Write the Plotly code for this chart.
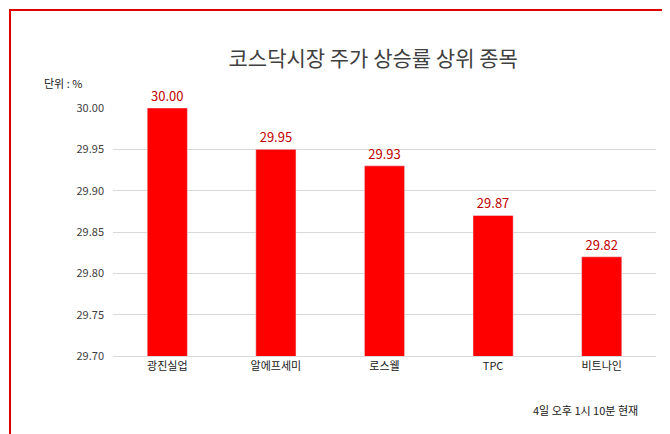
import plotly.graph_objects as go

stocks = ["광진실업", "알에프세미", "로스웰", "TPC", "비트나인"]
rates = [30.00, 29.95, 29.93, 29.87, 29.82]
tick_vals = [29.70, 29.75, 29.80, 29.85, 29.90, 29.95, 30.00]

L, R, T, B = 105, 22, 100, 86
PW, PH = 670 - L - R, 434 - T - B

fig = go.Figure()
fig.add_trace(go.Bar(
    x=stocks, y=rates, marker_color="#ff0000",
    text=[f"{v:.2f}" for v in rates], textposition="outside",
    textfont=dict(color="#c00000", size=13), cliponaxis=False,
))

fig.update_layout(
    width=670, height=434,
    font=dict(family="Noto Sans CJK KR", color="#404040"),
    paper_bgcolor="white", plot_bgcolor="white",
    margin=dict(l=L, r=R, t=T, b=B, autoexpand=False),
    bargap=0.63, showlegend=False,
    title=dict(text="코스닥시장 주가 상승률 상위 종목", x=0.545, y=0.9, xanchor="center",
               font=dict(size=21, color="#404040")),
    xaxis=dict(tickfont=dict(size=11, color="#202020"), showline=True, linecolor="#d9d9d9",
               automargin=False),
    yaxis=dict(range=[29.70, 30.00], tickvals=tick_vals, tickformat=".2f", automargin=False,
               gridcolor="#d9d9d9", tickfont=dict(size=11, color="#404040"), ticklabelstandoff=8),
    shapes=[dict(type="rect", xref="paper", yref="paper",
                 x0=-(L - 2) / PW, x1=1 + (R - 2) / PW, y0=-(B - 2) / PH, y1=1 + (T - 2) / PH,
                 line=dict(color="#e00000", width=2))],
    annotations=[
        dict(text="단위 : %", xref="paper", yref="paper", x=-0.13, y=1.14, xanchor="left",
             showarrow=False, font=dict(size=11, color="#202020")),
        dict(text="4일 오후 1시 10분 현재", xref="paper", yref="paper", x=0.97, y=-0.26,
             xanchor="right", showarrow=False, font=dict(size=11, color="#202020")),
    ],
)

fig.write_html("out.html")
